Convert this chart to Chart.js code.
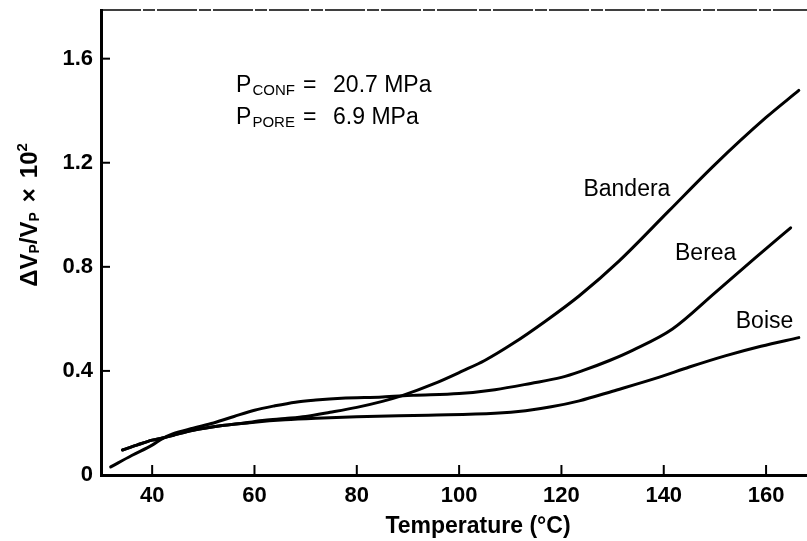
<!DOCTYPE html>
<html>
<head>
<meta charset="utf-8">
<script src="https://cdn.jsdelivr.net/npm/chart.js@4.4.0/dist/chart.umd.min.js"></script>
<style>
html, body { margin: 0; padding: 0; background: #fff; }
</style>
</head>
<body>
<canvas id="chart" width="807" height="541"></canvas>
<script>
// Temperature (°C) and dVp/Vp x 10^2
var banderaT = [34.2, 37, 40, 42, 44, 48, 53.7, 58, 62, 66, 70, 74.8, 80, 85, 89, 95, 100.7, 105, 110.5, 117, 123.5, 131.3, 141, 150, 160, 166.4];
var banderaV = [0.096, 0.115, 0.134, 0.142, 0.152, 0.172, 0.19, 0.2, 0.21, 0.217, 0.225, 0.241, 0.26, 0.283, 0.306, 0.35, 0.40, 0.44, 0.505, 0.593, 0.689, 0.823, 1.015, 1.193, 1.374, 1.478];

var bereaT = [31.9, 36, 40, 42, 44, 48, 52, 56, 60, 64, 68, 72, 77, 85, 91, 100, 107, 114, 120, 124, 129.4, 134, 141.7, 150, 158, 164.8];
var bereaV = [0.031, 0.075, 0.115, 0.14, 0.158, 0.18, 0.2, 0.225, 0.249, 0.266, 0.28, 0.288, 0.295, 0.30, 0.306, 0.313, 0.328, 0.352, 0.375, 0.40, 0.44, 0.48, 0.561, 0.70, 0.836, 0.95];

var boiseT = [34.2, 37, 40, 42, 44, 48, 53.7, 60, 66, 72, 80, 94, 107, 113, 118, 123.5, 130, 139, 145, 152, 159, 166.4];
var boiseV = [0.096, 0.115, 0.134, 0.142, 0.152, 0.172, 0.19, 0.203, 0.212, 0.218, 0.224, 0.23, 0.237, 0.247, 0.262, 0.285, 0.322, 0.375, 0.415, 0.458, 0.495, 0.528];

var xTicks = [40, 60, 80, 100, 120, 140, 160];
var yTicks = [0, 0.4, 0.8, 1.2, 1.6];
var yTickLabels = ['0', '0.4', '0.8', '1.2', '1.6'];

var FONT = "'Liberation Sans', Arial, Helvetica, sans-serif";

function toXY(xs, ys) {
    var out = [];
    for (var i = 0; i < xs.length; i++) {
        out.push({ x: xs[i], y: ys[i] });
    }
    return out;
}

function curve(label, xs, ys) {
    return {
        label: label,
        data: toXY(xs, ys),
        borderColor: '#000',
        borderWidth: 3,
        borderCapStyle: 'round',
        pointRadius: 0,
        fill: false,
        cubicInterpolationMode: 'monotone'
    };
}

// draw a run of text pieces [text, size, shift, gapAfter] starting at x (baseline y)
function drawRun(ctx, pieces, x, y, weight) {
    pieces.forEach(function(p) {
        ctx.font = weight + ' ' + p[1] + 'px ' + FONT;
        ctx.fillText(p[0], x, y + p[2]);
        x += ctx.measureText(p[0]).width + (p[3] || 0);
    });
    return x;
}

function runWidth(ctx, pieces, weight) {
    var w = 0;
    pieces.forEach(function(p) {
        ctx.font = weight + ' ' + p[1] + 'px ' + FONT;
        w += ctx.measureText(p[0]).width + (p[3] || 0);
    });
    return w;
}

var extras = {
    id: 'extras',
    afterDraw: function(chart) {
        var ctx = chart.ctx;
        var xs = chart.scales.x, ys = chart.scales.y;
        var area = chart.chartArea;
        ctx.save();
        ctx.strokeStyle = '#000';
        ctx.fillStyle = '#000';

        // inward tick marks
        ctx.lineWidth = 2;
        xTicks.forEach(function(t) {
            var px = xs.getPixelForValue(t);
            ctx.beginPath();
            ctx.moveTo(px, area.bottom);
            ctx.lineTo(px, area.bottom - 10);
            ctx.stroke();
        });
        yTicks.forEach(function(t) {
            if (t === 0) return;
            var py = ys.getPixelForValue(t);
            ctx.beginPath();
            ctx.moveTo(area.left, py);
            ctx.lineTo(area.left + 9, py);
            ctx.stroke();
        });

        // top frame, a bit broken like the copy
        ctx.lineWidth = 1.5;
        ctx.setLineDash([40, 2, 12, 2]);
        ctx.beginPath();
        ctx.moveTo(area.left, area.top);
        ctx.lineTo(area.right, area.top);
        ctx.stroke();
        ctx.setLineDash([]);

        // curve labels
        ctx.font = 'normal 23px ' + FONT;
        ctx.textAlign = 'center';
        ctx.textBaseline = 'middle';
        ctx.fillText('Bandera', xs.getPixelForValue(132.8), ys.getPixelForValue(1.095));
        ctx.fillText('Berea', xs.getPixelForValue(148.2), ys.getPixelForValue(0.849));
        ctx.fillText('Boise', xs.getPixelForValue(159.7), ys.getPixelForValue(0.588));

        // pressure note
        ctx.textAlign = 'left';
        ctx.textBaseline = 'alphabetic';
        var px0 = xs.getPixelForValue(56.4);
        var l1 = ys.getPixelForValue(1.47);
        var l2 = ys.getPixelForValue(1.35);
        drawRun(ctx, [['P', 23, 0, 1], ['CONF', 15, 3]], px0, l1, 'normal');
        drawRun(ctx, [['P', 23, 0, 1], ['PORE', 15, 3]], px0, l2, 'normal');
        ctx.font = 'normal 23px ' + FONT;
        var eqX = px0 + 67, valX = px0 + 97;
        ctx.fillText('=', eqX, l1);
        ctx.fillText('=', eqX, l2);
        ctx.fillText('20.7 MPa', valX, l1);
        ctx.fillText('6.9 MPa', valX, l2);

        // x axis title
        ctx.font = 'bold 23px ' + FONT;
        ctx.textAlign = 'center';
        ctx.fillText('Temperature (\u00B0C)', 478, 533);

        // y axis title, rotated
        var yPieces = [['\u0394V', 24, 0], ['P', 14, 2], ['/V', 24, 0], ['P', 14, 2, 10], ['\u00D7', 24, 0, 10], ['10', 24, 0], ['2', 15, -10]];
        var w = runWidth(ctx, yPieces, 'bold');
        ctx.translate(37, 215);
        ctx.rotate(-Math.PI / 2);
        ctx.textAlign = 'left';
        drawRun(ctx, yPieces, -w / 2, 0, 'bold');
        ctx.restore();
    }
};

var ctx = document.getElementById('chart').getContext('2d');
var chart = new Chart(ctx, {
    type: 'line',
    data: {
        datasets: [
            curve('Bandera', banderaT, banderaV),
            curve('Berea', bereaT, bereaV),
            curve('Boise', boiseT, boiseV)
        ]
    },
    options: {
        responsive: false,
        animation: false,
        devicePixelRatio: 1,
        layout: { padding: { top: 10, right: 0, left: 0, bottom: 0 } },
        plugins: {
            legend: { display: false },
            tooltip: { enabled: false }
        },
        scales: {
            x: {
                type: 'linear',
                min: 30,
                max: 168,
                afterBuildTicks: function(scale) {
                    scale.ticks = xTicks.map(function(v) { return { value: v }; });
                },
                afterFit: function(scale) {
                    scale.height = 66;
                    scale.paddingLeft = 0;
                    scale.paddingRight = 0;
                },
                grid: { display: true, drawOnChartArea: false, drawTicks: false },
                border: { display: true, color: '#000', width: 3 },
                ticks: {
                    color: '#000',
                    padding: 8,
                    maxRotation: 0,
                    font: { family: FONT, size: 22, weight: 'bold' },
                    callback: function(v) { return String(v); }
                }
            },
            y: {
                type: 'linear',
                min: 0,
                max: 1.787,
                afterBuildTicks: function(scale) {
                    scale.ticks = yTicks.map(function(v) { return { value: v }; });
                },
                afterFit: function(scale) {
                    scale.width = 101;
                    scale.paddingTop = 0;
                    scale.paddingBottom = 0;
                },
                grid: { display: true, drawOnChartArea: false, drawTicks: false },
                border: { display: true, color: '#000', width: 3 },
                ticks: {
                    color: '#000',
                    padding: 8,
                    font: { family: FONT, size: 22, weight: 'bold' },
                    callback: function(v) {
                        var i = yTicks.indexOf(v);
                        return i >= 0 ? yTickLabels[i] : '';
                    }
                }
            }
        }
    },
    plugins: [extras]
});
</script>
</body>
</html>
